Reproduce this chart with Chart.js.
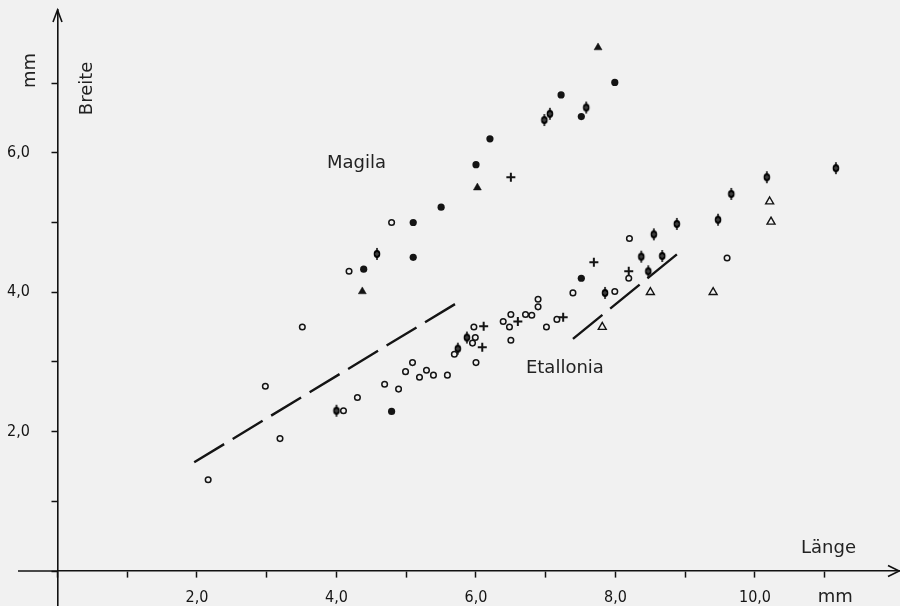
<!DOCTYPE html>
<html><head><meta charset="utf-8">
<script src="https://cdn.jsdelivr.net/npm/chart.js@4.4.1/dist/chart.umd.min.js"></script>
<style>html,body{margin:0;padding:0;background:#f1f1f1;}canvas{display:block;}</style>
</head><body>
<canvas id="c" width="900" height="606"></canvas>
<script>
// ---- tick labels ----
const xTickValues = [0,1,2,3,4,5,6,7,8,9,10,11];
const xLabelValues = [2,4,6,8,10];
const xLabelTexts = ['2,0','4,0','6,0','8,0','10,0'];
const yTickValues = [0,1,2,3,4,5,6,7];
const yLabelValues = [2,4,6];
const yLabelTexts = ['2,0','4,0','6,0'];

// ---- data (Länge, Breite in mm), grouped by marker ----
const filledCircles = [[7.99,7.01],[7.22,6.83],[7.51,6.52],[6.20,6.20],[6.00,5.83],[5.50,5.22],[5.10,5.00],[5.10,4.50],[4.39,4.33],[7.51,4.20],[4.79,2.29]];
const openCircles = [[4.79,5.00],[4.18,4.30],[3.51,3.50],[7.39,3.99],[7.99,4.01],[6.89,3.90],[6.89,3.79],[6.80,3.67],[6.71,3.68],[6.50,3.68],[6.39,3.58],[6.48,3.50],[6.50,3.31],[7.01,3.50],[7.16,3.61],[5.97,3.50],[5.99,3.35],[5.95,3.27],[5.69,3.11],[6.00,2.99],[5.09,2.99],[4.99,2.86],[5.29,2.88],[5.19,2.78],[5.39,2.81],[5.59,2.81],[4.69,2.68],[4.89,2.61],[4.30,2.49],[4.10,2.30],[2.16,1.31],[3.19,1.90],[2.98,2.65],[8.20,4.77],[8.19,4.20],[9.60,4.49]];
const filledTriangles = [[7.75,7.51],[6.02,5.50],[4.37,4.01]];
const openTriangles = [[10.21,5.30],[10.23,5.01],[7.81,3.50],[8.50,4.00],[9.40,4.00]];
const plusPoints = [[6.50,5.65],[7.69,4.43],[6.60,3.58],[7.25,3.64],[6.11,3.51],[6.09,3.21],[8.19,4.30]];
const phiPoints = [[7.58,6.65],[7.06,6.56],[6.98,6.47],[4.58,4.55],[7.85,3.99],[5.87,3.35],[5.74,3.19],[4.00,2.30],[9.47,5.04],[8.88,4.98],[8.55,4.83],[8.37,4.51],[8.67,4.52],[8.47,4.30],[10.17,5.65],[9.66,5.41],[11.16,5.78]];
const magilaLine = [[1.96,1.56],[5.70,3.83]];
const etalloniaLine = [[7.39,3.33],[8.90,4.56]];

// ---- text labels (anchored in data coordinates) ----
const textLabels = [
  {text:'Magila', x:3.864, y:5.78, rot:0},
  {text:'Etallonia', x:6.716, y:2.84, rot:0},
  {text:'Länge', x:10.66, y:0.258, rot:0},
  {text:'mm', x:10.90, y:-0.445, rot:0},
  {text:'Breite', x:0.495, y:6.54, rot:-90},
  {text:'mm', x:-0.323, y:6.93, rot:-90}
];

const INK = '#141414';
const toXY = arr => arr.map(p => ({x:p[0], y:p[1]}));

function makePhi(){
  const c = document.createElement('canvas'); c.width = 10; c.height = 14;
  const g = c.getContext('2d');
  g.strokeStyle = '#000'; g.lineWidth = 2;
  g.beginPath(); g.ellipse(5, 7, 2.3, 3.1, 0, 0, 2*Math.PI); g.stroke();
  g.lineWidth = 1.5; g.beginPath(); g.moveTo(5, 1); g.lineTo(5, 13); g.stroke();
  return c;
}

const decor = {
  id: 'decor',
  beforeDraw(chart){
    const ctx = chart.ctx;
    ctx.save(); ctx.fillStyle = '#f1f1f1'; ctx.fillRect(0,0,chart.width,chart.height); ctx.restore();
  },
  afterDraw(chart){
    const {ctx, scales:{x, y}, chartArea} = chart;
    const x0 = x.getPixelForValue(0), y0 = y.getPixelForValue(0);
    ctx.save();
    ctx.strokeStyle = '#111'; ctx.lineWidth = 1.6; ctx.lineJoin = 'miter';
    // x axis continues left of the y axis
    ctx.beginPath(); ctx.moveTo(18, y0); ctx.lineTo(x0, y0); ctx.stroke();
    // arrow heads
    ctx.beginPath(); ctx.moveTo(chartArea.right-12, y0-5.5); ctx.lineTo(chartArea.right-0.8, y0); ctx.lineTo(chartArea.right-12, y0+5.5); ctx.stroke();
    ctx.beginPath(); ctx.moveTo(x0-4.5, chartArea.top+12); ctx.lineTo(x0, chartArea.top); ctx.lineTo(x0+4.5, chartArea.top+12); ctx.stroke();
    ctx.fillStyle = '#222';
    ctx.font = '18px "DejaVu Sans", sans-serif';
    ctx.textAlign = 'left'; ctx.textBaseline = 'alphabetic';
    textLabels.forEach(l => {
      ctx.save();
      ctx.translate(x.getPixelForValue(l.x), y.getPixelForValue(l.y));
      if (l.rot) ctx.rotate(l.rot*Math.PI/180);
      ctx.fillText(l.text, 0, 0);
      ctx.restore();
    });
    ctx.restore();
  }
};

const tickFont = {family:"'Liberation Sans Narrow','DejaVu Sans Condensed','Arial Narrow',sans-serif", size:16};

new Chart(document.getElementById('c'), {
  type: 'scatter',
  data: { datasets: [
    {label:'Magila-Linie', data: toXY(magilaLine), showLine:true, pointRadius:0, borderColor:INK, borderWidth:2.4, borderDash:[35,10], borderCapStyle:'butt'},
    {label:'Etallonia-Linie', data: toXY(etalloniaLine), showLine:true, pointRadius:0, borderColor:INK, borderWidth:2.4, borderDash:[38,10], borderCapStyle:'butt'},
    {label:'gefüllte Kreise', data: toXY(filledCircles), pointStyle:'circle', pointRadius:3.6, backgroundColor:INK, borderColor:INK, borderWidth:0},
    {label:'offene Kreise', data: toXY(openCircles), pointStyle:'circle', pointRadius:2.8, backgroundColor:'rgba(0,0,0,0)', borderColor:INK, borderWidth:1.5},
    {label:'gefüllte Dreiecke', data: toXY(filledTriangles), pointStyle:'triangle', pointRadius:4.6, backgroundColor:INK, borderColor:INK, borderWidth:0.5},
    {label:'offene Dreiecke', data: toXY(openTriangles), pointStyle:'triangle', pointRadius:4.6, backgroundColor:'rgba(0,0,0,0)', borderColor:INK, borderWidth:1.4},
    {label:'Kreuze', data: toXY(plusPoints), pointStyle:'cross', pointRadius:4.5, borderColor:INK, borderWidth:2},
    {label:'Phi', data: toXY(phiPoints), pointStyle: makePhi(), pointRadius:5}
  ]},
  options: {
    responsive:false, animation:false, devicePixelRatio:1,
    layout:{autoPadding:false, padding:{left:0, right:0, top:10, bottom:0}},
    plugins:{legend:{display:false}, tooltip:{enabled:false}},
    scales:{
      x:{type:'linear', min:0, max:12.079, position:{y:0},
        afterBuildTicks: s => { s.ticks = xTickValues.map(v => ({value:v})); },
        ticks:{includeBounds:false, autoSkip:false, maxRotation:0, minRotation:0, padding:11, color:INK, font:tickFont,
          callback: v => { const i = xLabelValues.indexOf(v); return i >= 0 ? xLabelTexts[i] : ''; }},
        grid:{drawOnChartArea:false, drawTicks:true, tickLength:6, tickColor:'#111', tickWidth:1.5},
        border:{display:true, color:'#111', width:1.6}},
      y:{type:'linear', min:-0.502, max:8.049, position:'left',
        afterBuildTicks: s => { s.ticks = yTickValues.map(v => ({value:v})); },
        afterFit: s => { s.width = 57.5; s.paddingTop = 0; s.paddingBottom = 0; },
        ticks:{includeBounds:false, autoSkip:false, padding:21.5, color:INK, font:tickFont,
          callback: v => { const i = yLabelValues.indexOf(v); return i >= 0 ? yLabelTexts[i] : ''; }},
        grid:{drawOnChartArea:false, drawTicks:true, tickLength:6, tickColor:'#111', tickWidth:1.5},
        border:{display:true, color:'#111', width:1.6}}
    }
  },
  plugins:[decor]
});
</script>
</body></html>
